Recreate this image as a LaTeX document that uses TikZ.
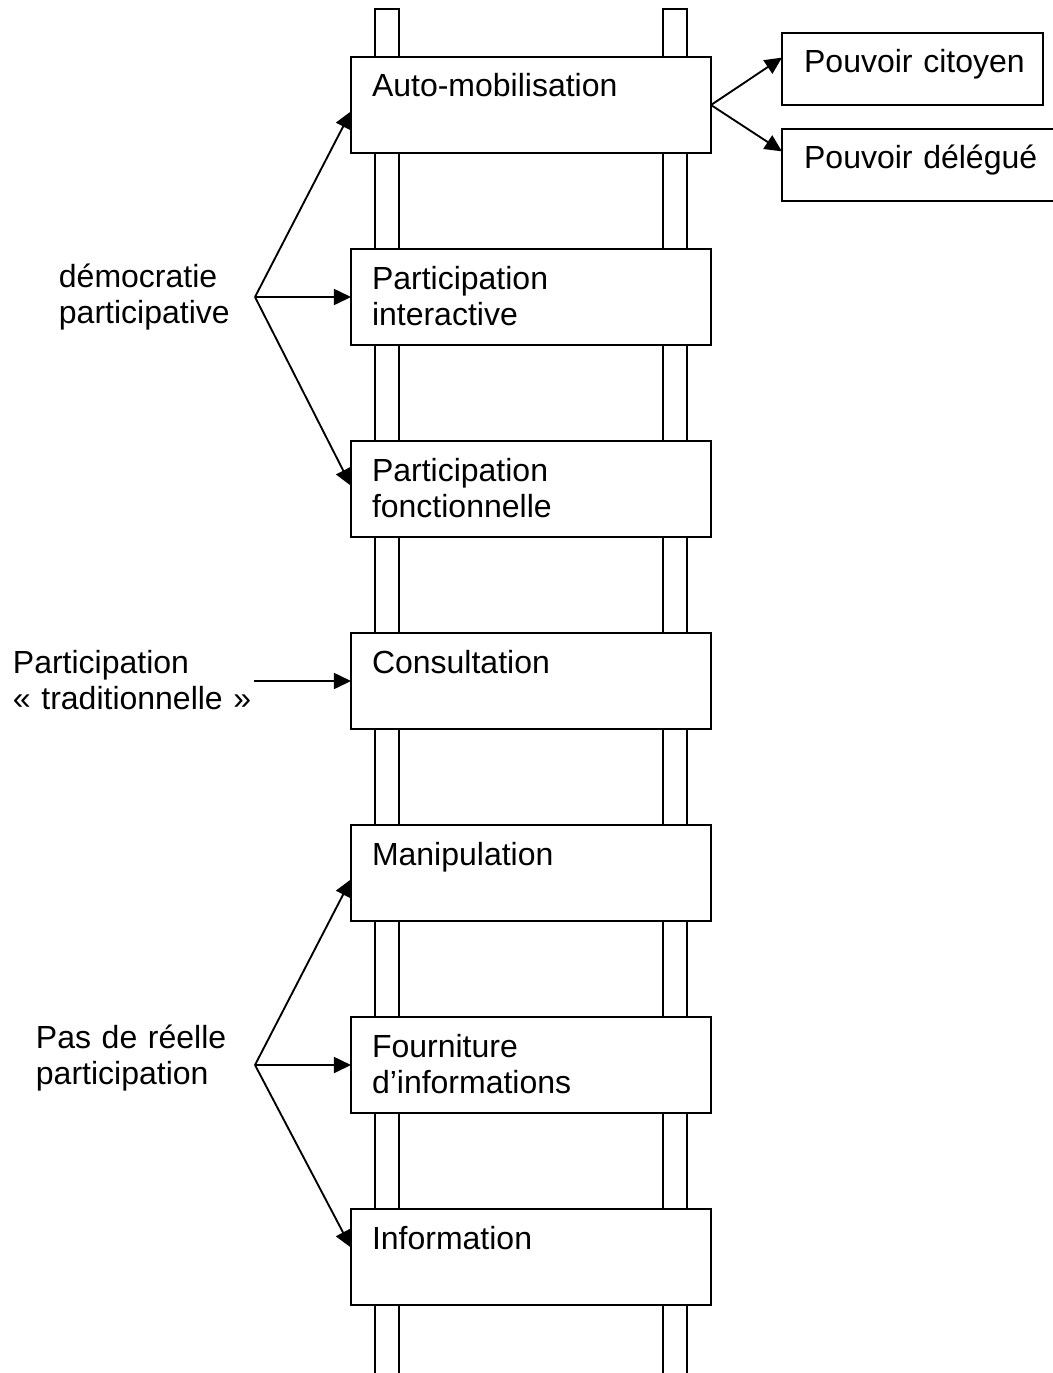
\documentclass[tikz,border=0pt]{standalone}
\usepackage{fontspec}
\setmainfont{Liberation Sans}
\usetikzlibrary{arrows.meta}

\begin{document}
\begin{tikzpicture}[x=0.375pt, y=-0.375pt, line width=0.7pt,
		font=\fontsize{12}{13.5}\selectfont,
		rung/.style={draw, fill=white, rectangle, anchor=north west, outer sep=0pt,
			inner xsep=7.875pt, inner ysep=0pt, text width=119.25pt, align=left,
			text height=15pt, text depth=21pt},
		sidebox/.style={draw, fill=white, rectangle, anchor=north west, outer sep=0pt,
			inner xsep=8.3pt, inner ysep=0pt, align=left,
			text height=15pt, text depth=12pt},
		labeltext/.style={anchor=base west, inner sep=0pt, align=left},
		arr/.style={-{Triangle[length=6.4pt, width=6pt]}}]
			%%%%% START %%%%%
			
			\useasboundingbox (0, 0) rectangle (1052, 1373);
			
			% ladder rails
			\draw (375, 1380) -- (375, 9) -- (399, 9) -- (399, 1380);
			\draw (663, 1380) -- (663, 9) -- (687, 9) -- (687, 1380);
			
			% rungs
			\node[rung] (auto) at (351, 57) {Auto-mobilisation};
			\node[rung] (inter) at (351, 249) {Participation\\interactive};
			\node[rung] (fonct) at (351, 441) {Participation\\fonctionnelle};
			\node[rung] (consult) at (351, 633) {Consultation};
			\node[rung] (manip) at (351, 825) {Manipulation};
			\node[rung] (fourn) at (351, 1017) {Fourniture\\d’informations};
			\node[rung] (info) at (351, 1209) {Information};
			
			% right side
			\node[sidebox, text width=81.3pt] (citoyen) at (782, 33) {\mbox{Pouvoir citoyen}};
			\node[sidebox, text width=100pt] (delegue) at (782, 129) {\mbox{Pouvoir délégué}};
			\draw[arr] (auto.east) -- (citoyen.175.2);
			\draw[arr] (auto.east) -- (delegue.175.2);
			
			% left side
			\node[labeltext, text width=80pt] (democ) at (58, 287) {démocratie\\participative};
			\coordinate (dfork) at (255, 297);
			\draw[arr] (dfork) -- (auto.182.2);
			\draw[arr] (dfork) -- (inter.west);
			\draw[arr] (dfork) -- (fonct.179);
			
			\node[labeltext, text width=90pt] (tradi) at (12, 673) {Participation\\« traditionnelle »};
			\coordinate (tstart) at (254, 681);
			\draw[arr] (tstart) -- (consult.west);
			
			\node[labeltext, text width=76.5pt] (pasde) at (35, 1048) {\makebox[76.5pt][s]{Pas de réelle}\\participation};
			\coordinate (pfork) at (255, 1065);
			\draw[arr] (pfork) -- (manip.182.5);
			\draw[arr] (pfork) -- (fourn.west);
			\draw[arr] (pfork) -- (info.177.1);
			
			%%%%% END %%%%%
\end{tikzpicture}
\end{document}
